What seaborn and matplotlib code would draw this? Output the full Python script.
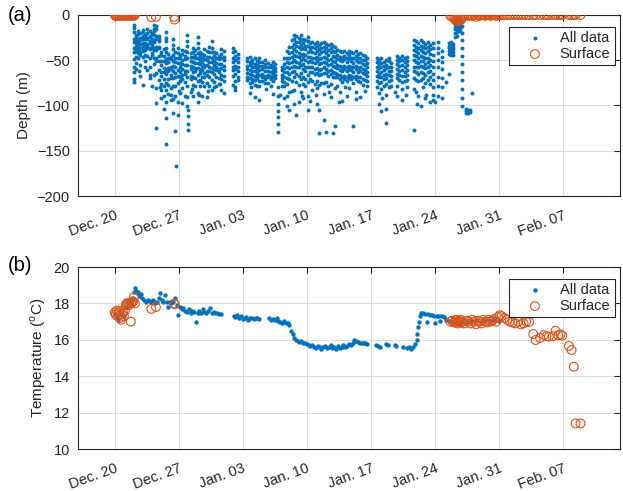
import pandas as pd
import numpy as np
import seaborn as sns
import matplotlib.pyplot as plt

# days are counted from Dec. 20 00:00
start = pd.Timestamp("2017-12-20")

# dive columns (time of dive, depths recorded in it)
g1_day = [2.05, 2.3, 2.55, 2.8, 3.05, 3.3, 3.55, 3.8, 4.05, 4.3, 4.55, 4.8, 5.1, 5.35, 5.55, 5.85]
g1_depth = [
    [-11, -14, -19, -27, -30, -37, -41, -49, -58, -63, -71, -74],
    [-22, -24, -29, -31, -34, -38, -40, -46, -53, -60],
    [-18, -21, -26, -30, -33, -35, -39, -42, -47],
    [-20, -25, -27, -28, -32, -36, -41, -44, -55, -67],
    [-17, -19, -23, -26, -31, -34, -36, -40, -46, -77],
    [-22, -24, -27, -31, -33, -35, -39, -44, -51],
    [-16, -20, -25, -27, -32, -34, -37, -45, -61],
    [-18, -23, -24, -29, -31, -36, -38, -48, -57, -70],
    [-20, -21, -26, -30, -33, -37, -42, -44, -78],
    [-11, -15, -18, -22, -28, -30, -36, -39, -47, -54, -66],
    [-12, -16, -23, -27, -35, -39, -47, -51, -64, -81, -97, -125],
    [-23, -27, -29, -35, -37, -45, -51, -61, -72],
    [-41, -44, -51, -55, -63, -67, -76, -83, -92],
    [-38, -45, -51, -59, -63, -71, -79, -89, -104],
    [-19, -25, -29, -37, -41, -49, -53, -61, -65, -75, -83, -96, -114, -143],
    [-43, -48, -52, -59, -62, -71, -77, -87],
]

g2_day = [6.1, 6.35, 6.6, 6.75, 6.9, 7.15, 7.4, 7.65, 7.9, 8.05, 8.3, 8.55, 8.8, 9.05, 9.3,
          9.55, 9.8, 10.05, 10.3, 10.6, 10.85, 11.1, 11.35, 11.65, 11.9]
g2_depth = [
    [-46, -49, -57, -60, -66, -70, -81, -88],
    [-26, -33, -38, -44, -51, -56, -62, -70, -79, -93, -108],
    [-41, -47, -52, -58, -64, -69, -78, -89, -128],
    [-167],
    [-36, -42, -48, -53, -61, -67, -75, -96, -110],
    [-44, -48, -53, -57, -63, -68, -73, -86],
    [-39, -43, -50, -54, -60, -66, -71, -81, -97],
    [-40, -45, -49, -55, -62, -65, -74],
    [-22, -29, -34, -41, -48, -55, -62, -69, -79, -91, -101],
    [-105, -112, -120, -127],
    [-42, -46, -51, -56, -60, -67, -71, -85],
    [-36, -41, -46, -52, -57, -63, -68, -77, -89],
    [-39, -44, -48, -53, -59, -62, -70, -78],
    [-24, -31, -37, -42, -48, -53, -59, -66, -73, -86, -96],
    [-41, -45, -50, -54, -61, -64, -72, -79],
    [-43, -47, -52, -58, -61, -68, -74, -89],
    [-38, -44, -49, -55, -58, -64, -69, -79],
    [-40, -46, -50, -55, -62, -66, -75, -91],
    [-35, -41, -46, -52, -57, -62, -68, -78],
    [-29, -36, -41, -47, -52, -59, -63, -72, -83],
    [-41, -45, -51, -55, -60, -65, -74],
    [-42, -47, -53, -57, -61, -69, -79],
    [-45, -49, -54, -60, -63, -70, -76],
    [-38, -43, -48, -54, -59, -66, -71, -83],
    [-40, -46, -50, -56, -61, -67, -73, -86],
]

g3_day = [12.95, 13.2, 13.45, 14.5, 14.75, 15.0, 15.3, 15.55, 15.8, 16.1, 16.4, 16.8, 17.05,
          17.3, 17.55, 17.8, 18.3, 18.55, 18.8, 19.1, 19.35, 19.6, 19.85]
g3_depth = [
    [-37, -41, -47, -52, -57, -61, -67, -77],
    [-40, -45, -50, -56, -60, -65, -73, -80],
    [-43, -47, -52, -57, -62, -68, -72],
    [-48, -51, -56, -60, -64, -69, -72],
    [-46, -52, -55, -61, -65, -70, -75, -86],
    [-50, -53, -58, -62, -66, -71, -74],
    [-48, -54, -57, -62, -67, -72, -77, -91],
    [-51, -55, -59, -63, -66, -70],
    [-47, -52, -56, -61, -66, -73, -79, -94],
    [-52, -56, -60, -65, -68, -73],
    [-50, -54, -58, -62, -67, -71, -75],
    [-53, -57, -62, -66, -69, -75],
    [-55, -58, -63, -67, -71, -79],
    [-52, -57, -61, -64, -68, -73, -87],
    [-54, -59, -62, -66, -70],
    [-80, -90, -98, -106, -113, -120, -129],
    [-57, -61, -66, -70, -73, -79],
    [-48, -54, -59, -63, -68, -74, -79, -92],
    [-40, -47, -52, -58, -63, -70, -76, -89, -101],
    [-35, -42, -47, -53, -59, -65, -71, -85, -105],
    [-28, -35, -41, -46, -52, -58, -63, -73, -84],
    [-22, -27, -32, -38, -44, -50, -56, -62, -69, -83, -98],
    [-23, -30, -34, -40, -45, -52, -57, -65, -74, -110],
]

g4_day = [20.1, 20.35, 20.6, 20.85, 21.1, 21.35, 21.6, 21.85, 22.1, 22.35, 22.6, 22.85, 23.1,
          23.35, 23.6, 23.85, 24.1, 24.35, 24.6, 24.85, 25.1, 25.35, 25.6, 25.85, 26.1, 26.35,
          26.6, 26.85, 27.1, 27.35, 27.6]
g4_depth = [
    [-25, -30, -35, -42, -46, -53, -58, -67, -77, -96],
    [-22, -28, -33, -38, -44, -50, -55, -64, -71, -85],
    [-26, -31, -37, -43, -48, -54, -60, -69, -76, -92],
    [-28, -34, -38, -44, -50, -57, -62, -71, -79],
    [-24, -29, -34, -41, -46, -52, -58, -66, -74, -89, -105],
    [-31, -36, -40, -46, -51, -58, -63, -71],
    [-30, -35, -41, -47, -52, -57, -63, -73, -83],
    [-32, -37, -42, -48, -53, -60, -65, -76],
    [-30, -34, -40, -46, -51, -59, -64, -73, -81, -98],
    [-33, -38, -43, -49, -54, -61, -66, -77, -105, -130],
    [-31, -36, -41, -47, -53, -60, -65, -75],
    [-30, -35, -40, -46, -52, -58, -64, -75, -87, -116],
    [-32, -37, -42, -48, -53, -60, -64, -74, -129],
    [-33, -39, -44, -50, -55, -62, -67, -78],
    [-32, -37, -41, -49, -54, -61, -65, -76, -91],
    [-34, -40, -45, -51, -56, -63, -69, -130],
    [-35, -41, -46, -52, -57, -64, -69, -81, -123],
    [-39, -44, -49, -55, -59, -65, -69, -79],
    [-40, -46, -50, -56, -61, -66, -71, -85],
    [-41, -47, -51, -57, -62, -68, -74, -95],
    [-40, -45, -49, -56, -60, -67, -71],
    [-42, -48, -52, -58, -62, -68, -73, -89],
    [-40, -44, -49, -56, -60, -66, -70, -81],
    [-41, -47, -51, -57, -61, -67, -71],
    [-42, -48, -53, -58, -63, -69, -75, -123],
    [-40, -45, -50, -56, -60, -67, -71, -85],
    [-43, -48, -52, -59, -63, -69, -73],
    [-42, -47, -52, -58, -62, -68, -74, -91],
    [-44, -50, -54, -60, -64, -71, -77],
    [-45, -50, -55, -61, -65, -72],
    [-47, -53, -57, -63, -67, -73, -79],
]

g5_day = [28.65, 28.9, 29.15, 29.4, 29.7, 29.95, 30.25, 30.85, 31.1, 31.4, 31.7, 32.0, 32.7,
          32.95, 33.2, 33.45, 33.7, 33.95, 34.2, 34.45, 34.8, 35.3, 35.75, 36.6, 36.8, 37.0,
          37.2, 37.45, 37.7, 37.95, 38.4, 38.6, 38.8, 39.1, 1.9, 39.5, 40.3, 41.2]
g5_depth = [
    [-48, -52, -58, -62, -67, -73, -80],
    [-50, -54, -59, -65, -69, -75, -86, -98],
    [-48, -53, -57, -63, -68, -74, -82, -106],
    [-52, -56, -61, -66, -71, -78],
    [-50, -55, -59, -65, -70, -76, -88, -104, -119],
    [-47, -51, -57, -62, -66, -73, -80],
    [-53, -57, -62, -67, -72, -78],
    [-45, -50, -54, -60, -65, -70, -78, -90],
    [-47, -51, -56, -62, -66, -72],
    [-45, -50, -55, -61, -67, -74, -82, -94],
    [-48, -52, -57, -63, -67, -73],
    [-46, -51, -55, -61, -66, -72, -80],
    [-28, -33, -39, -44, -50, -57, -62, -70, -82, -127],
    [-29, -35, -40, -45, -52, -58, -63, -72, -85],
    [-31, -36, -42, -47, -53, -58, -65, -73, -90],
    [-28, -34, -39, -45, -51, -56, -63, -72, -101],
    [-30, -35, -41, -46, -51, -58, -64, -70, -80],
    [-32, -36, -42, -48, -54, -59, -66, -75, -92],
    [-30, -35, -40, -47, -52, -58, -63, -72],
    [-33, -38, -43, -50, -55, -62, -68, -76, -96],
    [-31, -37, -44, -51, -58, -65, -72, -80, -88, -94],
    [-30, -36, -42, -50, -58, -68, -78, -90],
    [-40, -46, -52, -60, -70, -80, -92],
    [-31, -34, -37, -40, -43, -65],
    [-30, -33, -36, -39, -42, -44],
    [-32, -35, -38, -41, -44],
    [-2, -4, -6, -8, -10, -13, -16, -20, -24],
    [-3, -5, -7, -9, -12, -15, -19, -23],
    [-2, -5, -8, -11, -14, -18],
    [-12, -20, -28, -36, -45, -54, -63, -72, -82, -92, -101],
    [-104, -106, -108],
    [-105, -107, -108, -106],
    [-105, -107],
    [-86],
    [0], [0], [0], [0],
]

# isolated records between the dive columns
stray_day = [2.6, 3.3, 3.9, 5.0, 6.2, 7.0, 7.7, 8.4, 9.2, 10.2, 10.9, 11.5, 13.1, 14.9, 15.6,
             16.5, 18.1, 20.5, 21.4, 22.0, 23.4, 24.5, 25.2, 26.4, 27.4, 29.2, 30.6, 31.9,
             33.1, 34.0, 35.0, 36.2]
stray_depth = [-62, -57, -66, -80, -94, -84, -90, -82, -88, -84, -80, -76, -83, -80, -78, -82,
               -88, -90, -95, -88, -85, -96, -80, -93, -84, -92, -85, -88, -98, -88, -96, -74]

# temperature of all data
temp_day = [0.0, 0.2, 0.4, 0.6, 0.8, 1.0, 1.2, 1.4, 1.6, 1.8, 2.0, 2.15, 2.25, 2.35, 2.45, 2.55,
            2.7, 2.85, 3.0, 3.2, 3.4, 3.6, 3.8, 4.0, 4.2, 4.4, 4.6, 4.8, 5.0, 5.15, 5.3, 5.5,
            5.7, 5.85, 6.0, 6.2, 6.4, 6.6, 6.8, 6.95, 7.1, 7.3, 7.5, 7.7, 7.9, 8.1, 8.3, 8.5,
            8.7, 8.9, 9.05, 9.2, 9.4, 9.6, 9.8, 10.0, 10.2, 10.4, 10.6, 10.8, 11.0, 11.2, 11.4,
            11.6,
            13.0, 13.2, 13.4, 13.6, 13.8, 14.0, 14.2, 14.4, 14.6, 14.8, 15.0, 15.2, 15.4, 15.6,
            15.8, 16.9, 17.1, 17.3, 17.5, 17.7, 17.9, 18.1, 18.3, 18.5, 18.7, 18.9, 19.1,
            19.3, 19.45, 19.6, 19.8, 20.0, 20.2, 20.4, 20.6, 20.8, 21.0, 21.2, 21.4, 21.6, 21.8,
            22.0, 22.2, 22.4, 22.6, 22.8, 23.0, 23.2, 23.4, 23.6, 23.8, 24.0, 24.2, 24.4, 24.6,
            24.8, 25.0, 25.2, 25.4, 25.6, 25.8, 26.0, 26.2, 26.4, 26.6, 26.8, 27.0, 27.2, 27.4,
            27.6, 28.6, 28.8, 29.0, 29.7, 29.9, 30.6, 30.8, 31.5, 32.0, 32.2, 32.4, 32.6, 32.8,
            33.0, 33.1, 33.2, 33.3, 33.4, 33.5, 33.7, 33.9, 34.1, 34.3, 34.5, 34.7, 34.9, 35.0,
            35.2, 35.4, 35.6, 35.8, 36.0, 36.2, 36.5, 37.0, 37.5, 38.0, 38.5, 39.0, 39.5, 40.0,
            40.5, 41.0, 41.5, 42.0]
temp_val = [17.4, 17.3, 17.1, 17.4, 17.5, 17.3, 17.8, 18.0, 18.1, 18.0, 18.3, 18.6, 18.85, 18.7,
            18.55, 18.6, 18.4, 18.5, 18.3, 18.2, 18.1, 18.2, 18.15, 18.1, 18.2, 18.0, 18.1, 18.3,
            18.55, 18.2, 18.1, 18.45, 18.1, 17.8, 18.1, 18.0, 18.1, 18.3, 17.9, 17.35, 17.8, 17.7,
            17.75, 17.6, 17.55, 17.7, 17.5, 17.6, 17.55, 17.0, 17.5, 17.6, 17.5, 17.7, 17.55, 17.5,
            17.6, 17.75, 17.5, 17.55, 17.45, 17.5, 17.4, 17.4,
            17.3, 17.25, 17.35, 17.2, 17.3, 17.15, 17.2, 17.25, 17.1, 17.2, 17.2, 17.15, 17.2,
            17.2, 17.15, 17.2, 17.1, 17.15, 17.1, 17.2, 17.05, 17.0, 16.95, 17.05, 16.9, 16.95,
            16.8, 16.5, 16.3, 16.1, 16.0, 15.95, 15.9, 15.95, 15.85, 15.8, 15.75, 15.7, 15.65,
            15.7, 15.6, 15.55, 15.65, 15.6, 15.5, 15.6, 15.65, 15.55, 15.6, 15.7, 15.55, 15.6,
            15.5, 15.65, 15.55, 15.6, 15.7, 15.6, 15.65, 15.75, 15.7, 15.85, 16.0, 15.95, 15.9,
            15.85, 15.85, 15.8, 15.8, 15.75, 15.7, 15.65, 15.6, 15.75, 15.7, 15.7, 15.65, 15.6,
            15.55, 15.6, 15.5, 15.6, 15.75, 16.0, 16.3, 16.7, 17.0, 17.3, 17.5, 17.45, 17.4, 17.0,
            17.4, 17.35, 17.35, 17.3, 16.9, 17.3, 17.3, 17.05, 17.3, 17.25, 17.1, 17.05, 17.0,
            17.0, 17.05, 17.0, 17.05, 17.1, 17.0, 17.05, 17.1, 17.1, 17.05]

# surface records
surf_day = [0.0, 0.1, 0.2, 0.3, 0.4, 0.5, 0.6, 0.7, 0.8, 0.9, 1.0, 1.1, 1.2, 1.3, 1.4, 1.5,
            1.6, 1.75, 1.8, 1.9, 2.0, 2.1, 2.2, 4.0, 4.5, 6.5, 6.55,
            36.7, 36.9, 37.1, 37.2, 37.3, 37.4, 37.5, 37.6, 37.7, 37.8, 37.9, 38.0, 38.2, 38.5,
            38.7, 38.9, 39.1, 39.3, 39.5, 39.7, 39.9, 40.1, 40.3, 40.5, 40.7, 40.9, 41.1, 41.3,
            41.5, 41.7, 41.9, 42.1, 42.3, 42.6, 42.9, 43.2, 43.5, 43.8, 44.1, 44.4, 44.7, 45.0,
            45.3, 45.76, 46.02, 46.5, 46.93, 47.2, 47.47, 47.91, 48.2, 48.5, 48.75, 48.93,
            49.66, 49.95, 50.2, 50.39, 50.93]
surf_depth = [0, -1, 0, -1, 0, 0, -1, 0, 0, -1, 0, 0, -1, 0, 0, -1, 0, 0, -1, 0, 0, -1, 0,
              -2.5, -2, -2, -5,
              -1, -2, -3, -5, -6, -4, -7, -5, -6, -3, -5, -2, -1, 0, -1, 0, -1, 0, -2, 0, -1,
              0, 0, -1, 0, 0, -1, 0, 0, -1, 0, 0, 0, 0, 0, 0, 0, 0, 0, 0, 0, 0, 0, 0, 0, 0, 0,
              0, 0, 0, 0, 0, 0, 0, 0, 0, 0, 0, 0]
surf_temp = [17.5, 17.4, 17.6, 17.3, 17.5, 17.6, 17.2, 17.1, 17.4, 17.5, 17.3, 17.6, 17.9,
             18.0, 18.0, 17.9, 18.0, 17.0, 18.0, 18.1, 18.1, 18.35, 18.0, 17.7, 17.8, 18.0, 17.95,
             17.0, 17.05, 16.95, 17.0, 17.1, 17.0, 16.9, 17.05, 17.0, 17.1, 16.95, 17.0, 16.9,
             17.05, 17.0, 16.9, 17.1, 17.0, 16.85, 17.05, 17.0, 16.9, 17.1, 17.0, 16.95, 17.1,
             17.0, 17.05, 17.15, 17.0, 17.25, 17.35, 17.3, 17.2, 17.1, 17.0, 16.95, 16.9, 17.0,
             16.85, 16.9, 17.0, 16.98, 16.32, 15.99, 16.1, 16.26, 16.2, 16.17, 16.2, 16.5, 16.25,
             16.3, 16.23, 15.66, 15.44, 14.52, 11.41, 11.41]

tick_labels = ["Dec. 20", "Dec. 27", "Jan. 03", "Jan. 10", "Jan. 17", "Jan. 24", "Jan. 31", "Feb. 07"]

rows = []
for days, depths in [(g1_day, g1_depth), (g2_day, g2_depth), (g3_day, g3_depth),
                     (g4_day, g4_depth), (g5_day, g5_depth)]:
    for d, col in zip(days, depths):
        for z in col:
            rows.append((d, z))
rows += list(zip(stray_day, stray_depth))
dive = pd.DataFrame(rows, columns=["day", "depth"])
dive["time"] = start + pd.to_timedelta(dive["day"], unit="D")

temp = pd.DataFrame({"time": start + pd.to_timedelta(temp_day, unit="D"), "temp": temp_val})
surf = pd.DataFrame({"time": start + pd.to_timedelta(surf_day, unit="D"),
                     "depth": surf_depth, "temp": surf_temp})

sns.set_style("whitegrid")
plt.rcParams["font.family"] = ["Liberation Sans", "DejaVu Sans"]
plt.rcParams["mathtext.fontset"] = "custom"
plt.rcParams["mathtext.rm"] = "Liberation Sans"

blue = "#0072BD"
orange = "#D95319"
dark = "#262626"

fig = plt.figure(figsize=(6.23, 4.91), dpi=100)
ax1 = fig.add_axes([0.1255, 0.6008, 0.869, 0.3687])
ax2 = fig.add_axes([0.1255, 0.0855, 0.869, 0.3707])

sns.scatterplot(data=dive, x="time", y="depth", ax=ax1, color=blue, s=8, linewidth=0,
                marker="o", label="All data", zorder=2)
sns.scatterplot(data=surf, x="time", y="depth", ax=ax1, facecolors="none", edgecolor=orange,
                s=40, linewidth=0.8, marker="o", label="Surface", zorder=3)

sns.scatterplot(data=temp, x="time", y="temp", ax=ax2, color=blue, s=10, linewidth=0,
                marker="o", label="All data", zorder=2)
sns.scatterplot(data=surf, x="time", y="temp", ax=ax2, facecolors="none", edgecolor=orange,
                s=40, linewidth=0.8, marker="o", label="Surface", zorder=3)

ticks = pd.date_range(start, periods=len(tick_labels), freq="7D")
for ax in (ax1, ax2):
    ax.set_xlim(start - pd.Timedelta(days=4), start + pd.Timedelta(days=55.2))
    ax.set_xticks(ticks)
    ax.set_xticklabels(tick_labels, rotation=20, ha="right", rotation_mode="anchor")
    ax.tick_params(axis="both", direction="in", length=4, width=0.8, color=dark,
                   labelsize=10.5, labelcolor=dark, top=True, right=True, pad=6)
    ax.tick_params(axis="x", pad=9)
    ax.grid(True, color="#dcdcdc", linewidth=0.7)
    for sp in ax.spines.values():
        sp.set_color(dark)
        sp.set_linewidth(0.8)
    ax.set_xlabel("")
    leg = ax.legend(loc="upper right", bbox_to_anchor=(0.991, 0.935), borderaxespad=0,
                    fontsize=10.5, frameon=True, fancybox=False, edgecolor=dark,
                    framealpha=1, handlelength=3.0, handletextpad=0.2, borderpad=0.3,
                    labelspacing=0.12, markerscale=1.0)
    leg.get_frame().set_linewidth(0.8)

ax1.set_ylim(-200, 0)
ax1.set_yticks([-200, -150, -100, -50, 0])
ax1.set_ylabel("Depth (m)", fontsize=11, color=dark)
ax2.set_ylim(10, 20)
ax2.set_yticks([10, 12, 14, 16, 18, 20])
ax2.set_ylabel("Temperature ($^{\\rm o}$C)", fontsize=11, color=dark)

fig.text(0.012, 0.968, "(a)", fontsize=14.5, va="center", color="black")
fig.text(0.012, 0.46, "(b)", fontsize=14.5, va="center", color="black")

fig.savefig("out.png", dpi=100)
